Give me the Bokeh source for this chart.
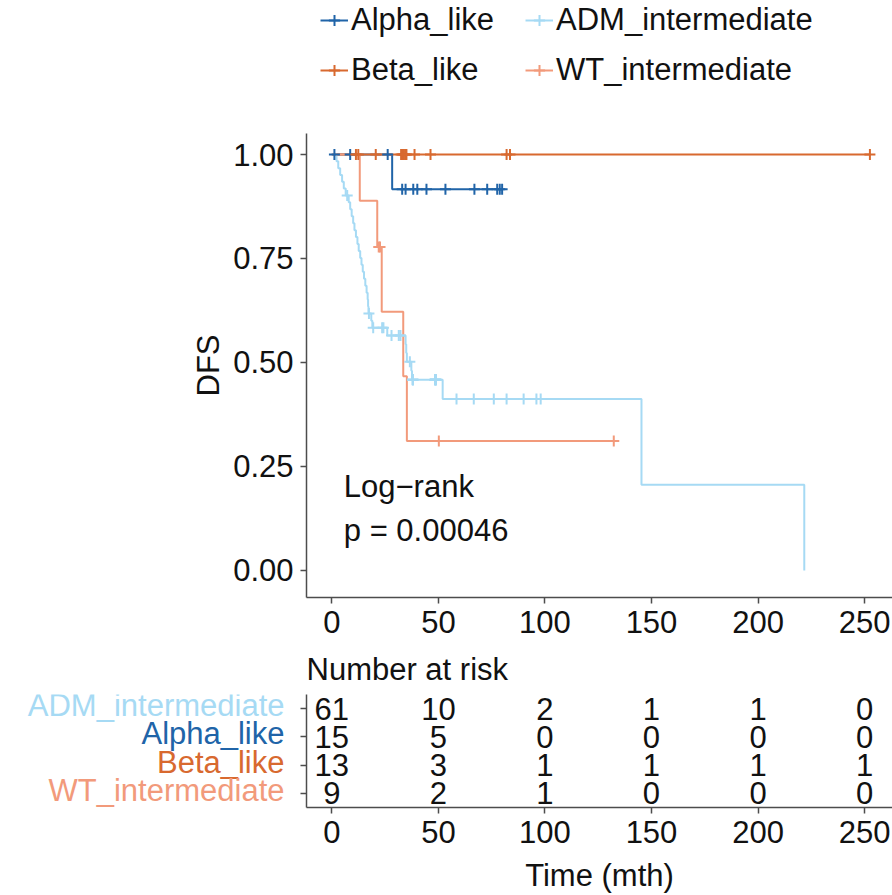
from bokeh.plotting import figure
from bokeh.layouts import column, row
from bokeh.models import (ColumnDataSource, FactorRange, FixedTicker, LabelSet,
                          Legend, LegendItem, PrintfTickFormatter, Range1d)
from bokeh.embed import file_html
from bokeh.resources import INLINE
from bokeh.core.properties import value

FONT = "Liberation Sans"
FS = "31px"
AXIS_COLOR = "#4d4d4d"
TEXT_COLOR = "#111111"

# ---------------- data ----------------
groups = ["Alpha_like", "Beta_like", "ADM_intermediate", "WT_intermediate"]
group_colors = ["#2064A8", "#D8692F", "#A6DAF4", "#F29A7B"]

# follow-up times (months): relapse events and censored observations
alpha_events = [28.3]
alpha_censored = [1.2, 8.6, 26.2, 33.0, 34.6, 38.2, 40.1, 44.4, 53.3, 66.9,
                  72.9, 77.6, 78.8, 79.9]

beta_events = []
beta_censored = [11.3, 12.4, 20.6, 32.5, 33.2, 33.8, 34.4, 35.0, 38.8, 46.3,
                 82.0, 83.6, 252.5]

adm_events = [2.2, 3.0, 3.9, 4.8, 5.6, 6.5, 7.9, 8.6, 9.3, 10.0, 10.6, 11.3,
              12.0, 12.6, 13.3, 13.9, 14.5, 15.1, 15.7, 16.3, 16.8, 17.0, 17.2,
              18.5, 19.0, 26.0, 34.6, 34.9, 35.2, 37.3, 37.6, 52.0, 145.3, 221.7]
adm_censored = [7.2, 17.4, 19.4, 23.6, 24.2, 28.0, 31.4, 32.2, 36.6,
                38.0, 38.0, 38.0, 38.0, 48.4, 48.4, 48.4, 48.8, 48.8, 48.8, 48.8,
                58.5, 66.6, 76.0, 82.0, 90.0, 96.0, 98.0]

wt_events = [13.1, 21.3, 23.4, 33.5, 35.2]
wt_censored = [22.0, 22.6, 50.2, 132.3]

events_by_group = [alpha_events, beta_events, adm_events, wt_events]
censored_by_group = [alpha_censored, beta_censored, adm_censored, wt_censored]

pval_label = "Log\u2212rank\np = 0.00046"

# number at risk table
risk_times = [0, 50, 100, 150, 200, 250]
risk_rows = ["ADM_intermediate", "Alpha_like", "Beta_like", "WT_intermediate"]
risk_row_colors = ["#A6DAF4", "#2064A8", "#D8692F", "#F29A7B"]
risk_adm = [61, 10, 2, 1, 1, 0]
risk_alpha = [15, 5, 0, 0, 0, 0]
risk_beta = [13, 3, 1, 1, 1, 1]
risk_wt = [9, 2, 1, 0, 0, 0]
risk_counts = [risk_adm, risk_alpha, risk_beta, risk_wt]

x_ticks = [0, 50, 100, 150, 200, 250]
y_ticks = [0, 0.25, 0.5, 0.75, 1.0]


# ---------------- Kaplan-Meier estimate ----------------
def km_curve(events, censored):
    times = events + censored
    xs, ys = [0.0], [1.0]
    s = 1.0
    for t in sorted(set(events)):
        n_risk = sum(1 for v in times if v >= t)
        s *= 1.0 - events.count(t) / n_risk
        xs.append(t)
        ys.append(s)
    last = max(times)
    if last > xs[-1]:
        xs.append(last)
        ys.append(s)
    return xs, ys


def surv_at(xs, ys, t):
    s = ys[0]
    for x, y in zip(xs, ys):
        if x <= t:
            s = y
    return s


def style_axis(ax):
    ax.axis_line_color = AXIS_COLOR
    ax.axis_line_width = 1.5
    ax.major_tick_line_color = AXIS_COLOR
    ax.major_tick_line_width = 1.5
    ax.major_tick_out = 6
    ax.major_tick_in = 0
    ax.minor_tick_line_color = None
    ax.major_label_text_font = FONT
    ax.major_label_text_font_size = FS
    ax.major_label_text_color = TEXT_COLOR
    ax.axis_label_text_font = FONT
    ax.axis_label_text_font_size = FS
    ax.axis_label_text_font_style = "normal"
    ax.axis_label_text_color = TEXT_COLOR


def draw_group(fig, xs, ys, ct, cy, color):
    lr = fig.step(xs, ys, mode="after", line_color=color, line_width=2)
    cr = fig.scatter(ct, cy, marker="cross", size=11, line_color=color,
                     line_width=2)
    return lr, cr


X0, X1 = -11.9, 263.1

curves = {}
for g, ev, ce in zip(groups, events_by_group, censored_by_group):
    xs, ys = km_curve(ev, ce)
    cy = [surv_at(xs, ys, t) for t in ce]
    curves[g] = (xs, ys, ce, cy)

# ---------------- survival curves ----------------
p = figure(width=892, height=537, x_range=Range1d(X0, X1),
           y_range=Range1d(-0.065, 1.0505),
           output_backend="svg", toolbar_location=None,
           min_border_left=306, min_border_right=0,
           min_border_top=29, min_border_bottom=44)
p.outline_line_color = None
p.grid.visible = False

for g, c in zip(groups, group_colors):
    xs, ys, ct, cy = curves[g]
    p.step(xs, ys, mode="after", line_color=c, line_width=2)
for g, c in zip(groups, group_colors):
    xs, ys, ct, cy = curves[g]
    p.scatter(ct, cy, marker="cross", size=11, line_color=c, line_width=2)

p.text(x=[5.6], y=[0.15], text=[pval_label], text_font=value(FONT),
       text_font_size=FS, text_align="left", text_baseline="middle",
       text_line_height=1.26, text_color=TEXT_COLOR)

p.xaxis.ticker = FixedTicker(ticks=x_ticks)
p.yaxis.ticker = FixedTicker(ticks=y_ticks)
p.yaxis.formatter = PrintfTickFormatter(format="%.2f")
p.yaxis.axis_label = "DFS"
style_axis(p.xaxis[0])
style_axis(p.yaxis[0])
p.xaxis.major_label_standoff = 7
p.yaxis.major_label_standoff = 7
p.yaxis.axis_label_standoff = 4

# ---------------- legend strip ----------------
# the strip's ranges sit away from the data, so only the legend keys show
leg = figure(width=892, height=104, x_range=Range1d(-2, -1),
             y_range=Range1d(-2, -1), output_backend="svg",
             toolbar_location=None, x_axis_location=None, y_axis_location=None,
             min_border=0)
leg.grid.visible = False
leg.outline_line_color = None

leg_items = {}
for g, c in zip(groups, group_colors):
    xs, ys, ct, cy = curves[g]
    lr, cr = draw_group(leg, xs, ys, ct, cy, c)
    leg_items[g] = LegendItem(label=g, renderers=[lr, cr])

legend_style = dict(orientation="vertical", glyph_width=28, glyph_height=38,
                    label_height=38, label_standoff=3, spacing=12, padding=0,
                    margin=0, border_line_color=None, background_fill_alpha=0,
                    label_text_font=FONT, label_text_font_size=FS,
                    label_text_color=TEXT_COLOR)
leg.add_layout(Legend(items=[leg_items["Alpha_like"], leg_items["Beta_like"]],
                      location=(14, 15), **legend_style))
leg.add_layout(Legend(items=[leg_items["ADM_intermediate"], leg_items["WT_intermediate"]],
                      location=(219, 15), **legend_style))

# ---------------- number at risk ----------------
rows_bottom_up = list(reversed(risk_rows))

lab = figure(width=296, height=254, x_range=Range1d(0, 1),
             y_range=FactorRange(factors=rows_bottom_up, range_padding=0),
             output_backend="svg", toolbar_location=None,
             x_axis_location=None, y_axis_location=None,
             min_border_left=0, min_border_right=0,
             min_border_top=53, min_border_bottom=86)
lab.grid.visible = False
lab.outline_line_color = None
row_src = ColumnDataSource(dict(x=[1] * len(risk_rows), y=risk_rows,
                                name=risk_rows, color=risk_row_colors))
lab.add_layout(LabelSet(x="x", y="y", text="name", source=row_src,
                        text_color="color", text_font=value(FONT),
                        text_font_size=FS, text_align="right",
                        text_baseline="middle", x_offset=-12, y_offset=3))

tab = figure(width=596, height=254, x_range=Range1d(X0, X1),
             y_range=FactorRange(factors=rows_bottom_up, range_padding=0),
             output_backend="svg", toolbar_location=None,
             min_border_left=10, min_border_right=0,
             min_border_top=53, min_border_bottom=86,
             title="Number at risk")
tab.outline_line_color = None
tab.grid.visible = False
tab.title.text_font = FONT
tab.title.text_font_size = FS
tab.title.text_font_style = "normal"
tab.title.text_color = TEXT_COLOR
tab.title.align = "left"
tab.title.standoff = 16

for name, counts in zip(risk_rows, risk_counts):
    tab.text(x=risk_times, y=[name] * len(risk_times), text=[str(v) for v in counts],
             text_font=value(FONT), text_font_size=FS, text_align="center",
             text_baseline="middle", text_color=TEXT_COLOR)

tab.xaxis.ticker = FixedTicker(ticks=x_ticks)
tab.xaxis.axis_label = "Time (mth)"
style_axis(tab.xaxis[0])
style_axis(tab.yaxis[0])
tab.xaxis.major_label_standoff = 7
tab.xaxis.axis_label_standoff = 12
# row names are drawn in colour beside the table, so the axis keeps only its ticks
tab.yaxis.major_label_text_font_size = "1px"
tab.yaxis.major_label_text_color = None
tab.yaxis.major_label_standoff = 0

layout = column(leg, p, row(lab, tab, spacing=0), spacing=0)

open("out.html", "w").write(file_html(layout, INLINE))
